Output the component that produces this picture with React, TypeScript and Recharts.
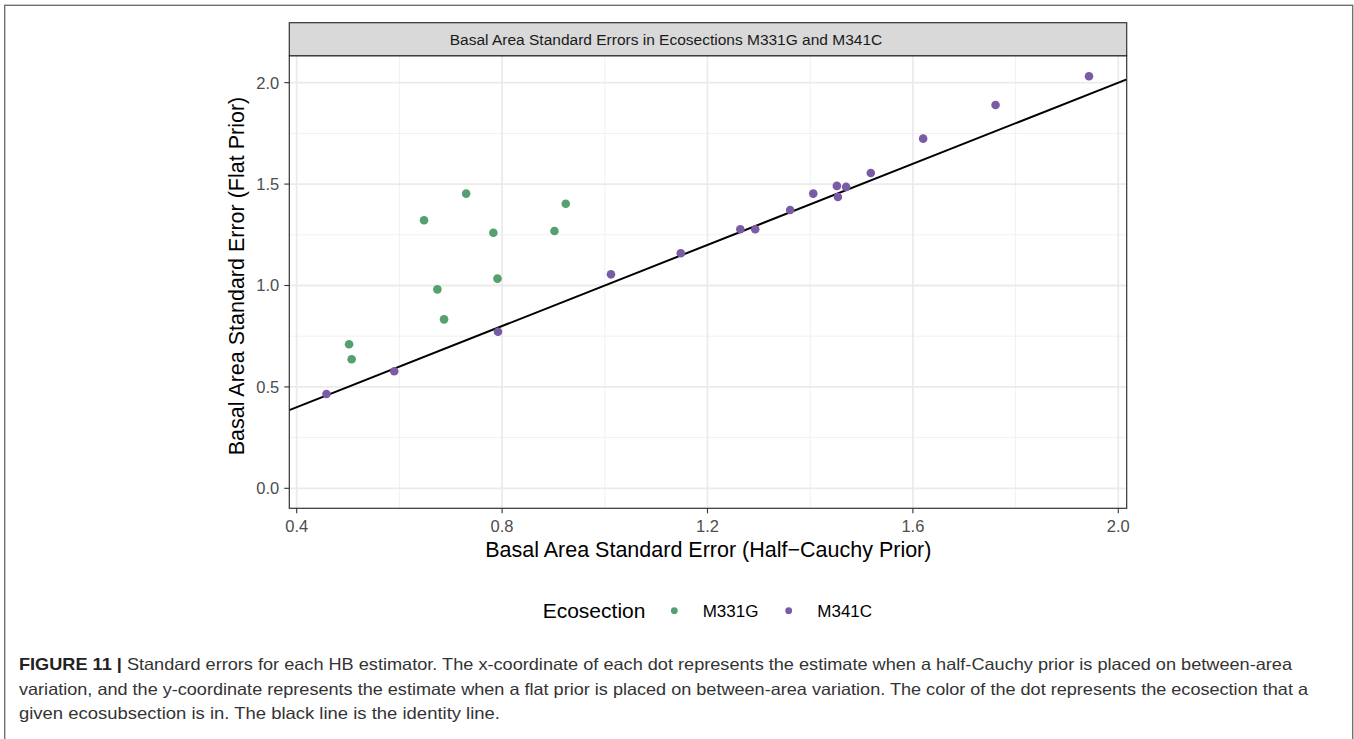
import React from 'react';
import { ScatterChart, Scatter, XAxis, YAxis, ReferenceLine } from 'recharts';

const W = 1354;
const H = 739;
const FONT = '"Liberation Sans", Arial, Helvetica, sans-serif';

// ---- data ----
const seriesNames = ['M331G', 'M341C'];
const seriesColors = ['#55A06F', '#7A5BA5'];

const m331gX = [0.502, 0.507, 0.648, 0.674, 0.687, 0.730, 0.783, 0.791, 0.902, 0.924];
const m331gY = [0.710, 0.636, 1.322, 0.981, 0.833, 1.453, 1.260, 1.034, 1.269, 1.403];

const m341cX = [0.458, 0.590, 0.792, 1.012, 1.148, 1.264, 1.293, 1.361, 1.406, 1.452, 1.454, 1.470, 1.518, 1.620, 1.761, 1.943];
const m341cY = [0.465, 0.577, 0.772, 1.055, 1.159, 1.277, 1.277, 1.372, 1.453, 1.491, 1.436, 1.486, 1.555, 1.724, 1.890, 2.032];

const xTicks = [0.4, 0.8, 1.2, 1.6, 2.0];
const xMinor = [0.6, 1.0, 1.4, 1.8];
const yTicks = [0, 0.5, 1.0, 1.5, 2.0];
const yMinor = [0.25, 0.75, 1.25, 1.75];

const xDomain = [0.3856, 2.0164];
const yDomain = [-0.0986, 2.133];

const stripTitle = 'Basal Area Standard Errors in Ecosections M331G and M341C';
const xTitle = 'Basal Area Standard Error (Half\u2212Cauchy Prior)';
const yTitle = 'Basal Area Standard Error (Flat Prior)';
const legendTitle = 'Ecosection';

const captionLines = [
  'Standard errors for each HB estimator. The x-coordinate of each dot represents the estimate when a half-Cauchy prior is placed on between-area',
  'variation, and the y-coordinate represents the estimate when a flat prior is placed on between-area variation. The color of the dot represents the ecosection that a',
  'given ecosubsection is in. The black line is the identity line.',
];
const captionLabel = 'FIGURE 11 | ';

const m331g = m331gX.map((x, i) => ({ x, y: m331gY[i] }));
const m341c = m341cX.map((x, i) => ({ x, y: m341cY[i] }));
const seriesData = [m331g, m341c];

// ---- layout ----
const PL = 289.3;
const PR = 1126.7;
const PT = 55.7;
const PB = 508.3;
const YW = 80;
const XH = 60;

const dot = (color: string) => (p: any) => (
  <circle cx={p.cx} cy={p.cy} r={4.3} fill={color} />
);

export default function App() {
  return (
    <div style={{ position: 'absolute', left: 0, top: 0, width: W, height: H, overflow: 'hidden', background: '#fff' }}>
      <div style={{ position: 'absolute', left: 0, top: 0 }}>
        <ScatterChart
          width={W}
          height={H}
          margin={{ top: PT, right: W - PR, left: PL - YW, bottom: H - PB - XH }}
        >
          <XAxis
            type="number"
            dataKey="x"
            domain={xDomain}
            ticks={xTicks}
            allowDataOverflow
            height={XH}
            axisLine={false}
            tickSize={5}
            tickMargin={7}
            tickLine={{ stroke: '#333333', strokeWidth: 1.1 }}
            tick={{ fill: '#4D4D4D', fontSize: 16.5, fontFamily: FONT }}
            tickFormatter={(v: number) => v.toFixed(1)}
            interval={0}
          />
          <YAxis
            type="number"
            dataKey="y"
            domain={yDomain}
            ticks={yTicks}
            allowDataOverflow
            width={YW}
            axisLine={false}
            tickSize={5}
            tickMargin={5}
            tickLine={{ stroke: '#333333', strokeWidth: 1.1 }}
            tick={{ fill: '#4D4D4D', fontSize: 16.5, fontFamily: FONT }}
            tickFormatter={(v: number) => v.toFixed(1)}
            interval={0}
          />
          {xMinor.map((v) => (
            <ReferenceLine key={'xm' + v} x={v} stroke="#F1F1F1" strokeWidth={1} />
          ))}
          {yMinor.map((v) => (
            <ReferenceLine key={'ym' + v} y={v} stroke="#F1F1F1" strokeWidth={1} />
          ))}
          {xTicks.map((v) => (
            <ReferenceLine key={'xM' + v} x={v} stroke="#EBEBEB" strokeWidth={1.8} />
          ))}
          {yTicks.map((v) => (
            <ReferenceLine key={'yM' + v} y={v} stroke="#EBEBEB" strokeWidth={1.8} />
          ))}
          <ReferenceLine
            segment={[
              { x: xDomain[0], y: xDomain[0] },
              { x: xDomain[1], y: xDomain[1] },
            ]}
            stroke="#000000"
            strokeWidth={2}
            ifOverflow="visible"
          />
          {seriesData.map((d, i) => (
            <Scatter
              key={seriesNames[i]}
              name={seriesNames[i]}
              data={d}
              fill={seriesColors[i]}
              shape={dot(seriesColors[i])}
              isAnimationActive={false}
            />
          ))}
        </ScatterChart>
      </div>
      <svg
        width={W}
        height={H}
        style={{ position: 'absolute', left: 0, top: 0, pointerEvents: 'none' }}
        fontFamily={FONT}
      >
        {/* outer frame */}
        <rect x={4.7} y={5.3} width={1348} height={760} fill="none" stroke="#707070" strokeWidth={1.4} />
        {/* panel border */}
        <rect x={PL} y={PT} width={PR - PL} height={PB - PT} fill="none" stroke="#333333" strokeWidth={1.2} />
        {/* strip */}
        <rect x={PL} y={22.7} width={PR - PL} height={PT - 22.7} fill="#D9D9D9" stroke="#333333" strokeWidth={1.2} />
        <text x={666} y={44.8} textAnchor="middle" fontSize={15.5} fill="#1A1A1A">
          {stripTitle}
        </text>
        {/* axis titles */}
        <text x={708.3} y={556.7} textAnchor="middle" fontSize={21.5} fill="#000">
          {xTitle}
        </text>
        <text transform="translate(244,276) rotate(-90)" x={0} y={0} textAnchor="middle" fontSize={21.5} fill="#000">
          {yTitle}
        </text>
        {/* legend */}
        <text x={542.7} y={618} fontSize={21} fill="#000">
          {legendTitle}
        </text>
        <circle cx={674.3} cy={610.7} r={3.4} fill={seriesColors[0]} />
        <text x={702.7} y={617.3} fontSize={17} fill="#000">
          {seriesNames[0]}
        </text>
        <circle cx={788.7} cy={610.7} r={3.4} fill={seriesColors[1]} />
        <text x={817.3} y={617.3} fontSize={17} fill="#000">
          {seriesNames[1]}
        </text>
        {/* caption */}
        <text x={19} y={669.5} fontSize={16.5} fill="#333" textLength={1273} lengthAdjust="spacingAndGlyphs">
          <tspan fontWeight="bold" fill="#222">{captionLabel}</tspan>
          {captionLines[0]}
        </text>
        <text x={19} y={694.5} fontSize={16.5} fill="#333" textLength={1289} lengthAdjust="spacingAndGlyphs">
          {captionLines[1]}
        </text>
        <text x={19} y={719.3} fontSize={16.5} fill="#333" textLength={481} lengthAdjust="spacingAndGlyphs">
          {captionLines[2]}
        </text>
      </svg>
    </div>
  );
}
